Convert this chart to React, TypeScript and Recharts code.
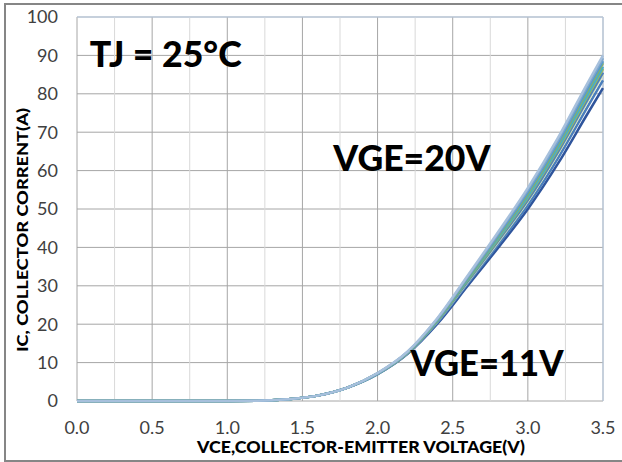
import {
  LineChart,
  Line,
  XAxis,
  YAxis,
  CartesianGrid,
  ReferenceLine,
  ReferenceDot,
  Label,
} from "recharts";

// collector-emitter voltage sample points (V)
const VCE = [0, 0.5, 1.0, 1.2, 1.4, 1.6, 1.8, 2.0, 2.2, 2.4, 2.6, 2.8, 3.0, 3.2, 3.4, 3.5];

// collector current (A), one curve per gate voltage
const IC_11 = [0, 0, 0, 0.05, 0.45, 1.4, 3.5, 7.0, 12.3, 20.2, 30.0, 39.8, 50.0, 61.8, 75.0, 81.5];
const IC_12 = [0, 0, 0, 0.05, 0.45, 1.4, 3.5, 7.0, 12.4, 20.5, 30.6, 40.6, 51.0, 63.2, 76.8, 83.5];
const IC_13 = [0, 0, 0, 0.05, 0.45, 1.4, 3.5, 7.1, 12.5, 20.8, 31.0, 41.3, 52.0, 64.4, 78.2, 85.0];
const IC_14 = [0, 0, 0, 0.05, 0.45, 1.4, 3.5, 7.1, 12.5, 20.8, 31.2, 41.6, 52.3, 64.8, 78.7, 85.5];
const IC_15 = [0, 0, 0, 0.05, 0.45, 1.4, 3.5, 7.1, 12.6, 21.0, 31.5, 42.0, 53.0, 65.5, 79.5, 86.5];
const IC_16 = [0, 0, 0, 0.05, 0.45, 1.4, 3.5, 7.1, 12.6, 21.1, 31.7, 42.3, 53.3, 65.9, 80.0, 87.0];
const IC_17 = [0, 0, 0, 0.05, 0.45, 1.4, 3.5, 7.2, 12.7, 21.3, 32.0, 42.8, 54.0, 66.8, 81.0, 88.0];
const IC_18 = [0, 0, 0, 0.05, 0.45, 1.4, 3.5, 7.2, 12.8, 21.4, 32.2, 43.1, 54.4, 67.2, 81.5, 88.5];
const IC_19 = [0, 0, 0, 0.05, 0.45, 1.4, 3.5, 7.2, 12.8, 21.5, 32.4, 43.5, 55.0, 67.9, 82.3, 89.3];
const IC_20 = [0, 0, 0, 0.05, 0.45, 1.4, 3.5, 7.3, 12.9, 21.7, 32.7, 43.9, 55.5, 68.5, 83.0, 90.0];

const X_TICKS = [0, 0.5, 1.0, 1.5, 2.0, 2.5, 3.0, 3.5];
const X_MINOR = [0.25, 0.75, 1.25, 1.75, 2.25, 2.75, 3.25];
const Y_TICKS = [0, 10, 20, 30, 40, 50, 60, 70, 80, 90, 100];

const SERIES = [
  { key: "vge11", values: IC_11, color: "#2f559c" },
  { key: "vge12", values: IC_12, color: "#4a7ebb" },
  { key: "vge13", values: IC_13, color: "#d4e2b4" },
  { key: "vge14", values: IC_14, color: "#4f81bd" },
  { key: "vge15", values: IC_15, color: "#9bbb59" },
  { key: "vge16", values: IC_16, color: "#4bacc6" },
  { key: "vge17", values: IC_17, color: "#8fb456" },
  { key: "vge18", values: IC_18, color: "#5b9bc8" },
  { key: "vge19", values: IC_19, color: "#7fa7cf" },
  { key: "vge20", values: IC_20, color: "#a7c0dc" },
];

const data = VCE.map((v, i) => {
  const row: Record<string, number> = { v };
  SERIES.forEach((s) => (row[s.key] = s.values[i]));
  return row;
});

const FONT = "Lato, 'Open Sans', sans-serif";
const tickStyle = { fontSize: 18, fontFamily: FONT, fill: "#404040" };

const note = (text: string, len: number) => (props: any) => {
  const { viewBox } = props;
  return (
    <text
      x={viewBox.x + viewBox.width / 2}
      y={viewBox.y}
      textAnchor="middle"
      fontFamily={FONT}
      fontWeight={900}
      fontSize={36}
      textLength={len}
      lengthAdjust="spacingAndGlyphs"
      fill="#000"
    >
      {text}
    </text>
  );
};

const App = () => {
  return (
    <div style={{ position: "absolute", left: 0, top: 0, width: 622, height: 462, background: "#fff", overflow: "hidden" }}>
      <div style={{ position: "absolute", left: 4, top: 3, width: 630, height: 455, border: "2px solid #868686" }} />
      <LineChart
        width={622}
        height={462}
        data={data}
        margin={{ top: 17, right: 19, bottom: 0, left: 0 }}
        style={{ position: "absolute", left: 0, top: 0 }}
      >
        <CartesianGrid horizontal={false} stroke="#a6a6a6" strokeWidth={1} />
        <CartesianGrid vertical={false} stroke="#a6a6a6" strokeWidth={1} />
        {X_MINOR.map((x) => (
          <ReferenceLine key={x} x={x} stroke="#d9d9d9" strokeWidth={1} />
        ))}
        <ReferenceLine y={100} stroke="#b9cde5" strokeWidth={1} />
        <ReferenceLine x={3.5} stroke="#b9cde5" strokeWidth={1} />
        <XAxis
          dataKey="v"
          type="number"
          domain={[0, 3.5]}
          ticks={X_TICKS}
          tickFormatter={(v: number) => v.toFixed(1)}
          axisLine={false}
          tickLine={false}
          tickMargin={14}
          height={61}
          tick={tickStyle}
        >
          <Label
            content={(props: any) => {
              const vb = props.viewBox;
              return (
                <text
                  x={vb.x + vb.width / 2 + 21}
                  y={453}
                  textAnchor="middle"
                  fontFamily={FONT}
                  fontWeight={900}
                  fontSize={17}
                  textLength={328}
                  lengthAdjust="spacingAndGlyphs"
                  fill="#000"
                >
                  VCE,COLLECTOR-EMITTER VOLTAGE(V)
                </text>
              );
            }}
          />
        </XAxis>
        <YAxis
          type="number"
          domain={[0, 100]}
          ticks={Y_TICKS}
          axisLine={false}
          tickLine={false}
          tickMargin={13}
          width={77}
          tick={tickStyle}
        >
          <Label
            content={() => (
              <text
                x={28}
                y={230}
                transform="rotate(-90 28 230)"
                textAnchor="middle"
                fontFamily={FONT}
                fontWeight={900}
                fontSize={15.5}
                textLength={244}
                lengthAdjust="spacingAndGlyphs"
                fill="#000"
              >
                IC, COLLECTOR CORRENT(A)
              </text>
            )}
          />
        </YAxis>
        {SERIES.map((s) => (
          <Line
            key={s.key}
            dataKey={s.key}
            type="monotone"
            stroke={s.color}
            strokeWidth={2.5}
            dot={false}
            isAnimationActive={false}
          />
        ))}
        <ReferenceDot x={0.59} y={87} r={0} stroke="none" fill="none" label={{ content: note("TJ = 25°C", 152) }} />
        <ReferenceDot x={2.228} y={59.8} r={0} stroke="none" fill="none" label={{ content: note("VGE=20V", 157) }} />
        <ReferenceDot x={2.728} y={6.4} r={0} stroke="none" fill="none" label={{ content: note("VGE=11V", 153) }} />
      </LineChart>
    </div>
  );
};

export default App;
